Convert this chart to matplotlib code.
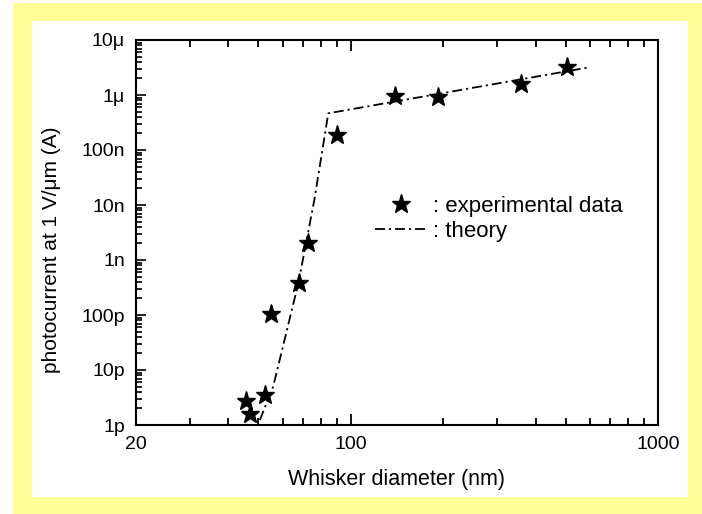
import matplotlib
matplotlib.use("Agg")
import matplotlib.pyplot as plt
from matplotlib.patches import Rectangle
from matplotlib.ticker import LogLocator, FixedLocator, FixedFormatter, NullFormatter

plt.rcParams['font.family'] = ['Liberation Sans', 'DejaVu Sans']

# experimental data
exp_diam = [45.6, 47.0, 52.6, 54.9, 67.8, 72.4, 90.0, 139.6, 191.9, 359.0, 506.0]
exp_curr = [2.73e-12, 1.56e-12, 3.51e-12, 1.03e-10, 3.77e-10, 2.01e-9, 1.87e-7,
            9.6e-7, 9.1e-7, 1.58e-6, 3.27e-6]

# theory curve
th_diam = [50.6, 55.9, 67.5, 76.1, 84.5, 588.0]
th_curr = [1.23e-12, 4.97e-12, 3.77e-10, 1.23e-8, 4.65e-7, 3.14e-6]

ytick_vals = [1e-12, 1e-11, 1e-10, 1e-9, 1e-8, 1e-7, 1e-6, 1e-5]
ytick_labels = ['1p', '10p', '100p', '1n', '10n', '100n', '1\u03bc', '10\u03bc']
xtick_vals = [20, 100, 1000]
xtick_labels = ['20', '100', '1000']

fig = plt.figure(figsize=(7.02, 5.14), dpi=100)
fig.patch.set_facecolor('white')
fig.patches.append(Rectangle((13/702, 0), 1 - 13/702, (514-3)/514, transform=fig.transFigure,
                             facecolor='#FFFF99', edgecolor='none', zorder=-2))
fig.patches.append(Rectangle((32/702, (514-497)/514), 656/702, 476/514, transform=fig.transFigure,
                             facecolor='white', edgecolor='none', zorder=-1))

ax = fig.add_axes([136/702, (514-425)/514, 522/702, 385/514])
ax.set_zorder(1)
ax.set_xscale('log')
ax.set_yscale('log')
ax.set_xlim(20, 1000)
ax.set_ylim(1e-12, 1e-5)

dash = (5.5, 2.2, 1.2, 2.2)
ax.plot(th_diam, th_curr, color='black', lw=1.3, linestyle=(0, dash), label=': theory')
ax.plot(exp_diam, exp_curr, linestyle='none', marker='*', color='black', markersize=14,
        label=': experimental data')

ax.xaxis.set_major_locator(FixedLocator(xtick_vals))
ax.xaxis.set_major_formatter(FixedFormatter(xtick_labels))
ax.xaxis.set_minor_locator(LogLocator(base=10, subs=range(2, 10)))
ax.xaxis.set_minor_formatter(NullFormatter())
ax.yaxis.set_major_locator(FixedLocator(ytick_vals))
ax.yaxis.set_major_formatter(FixedFormatter(ytick_labels))
ax.yaxis.set_minor_locator(LogLocator(base=10, subs=range(2, 10)))
ax.yaxis.set_minor_formatter(NullFormatter())

ax.tick_params(axis='x', which='both', direction='in', top=True, bottom=True, labelsize=14,
               width=1.3, pad=8)
ax.tick_params(axis='x', which='major', length=8)
ax.tick_params(axis='x', which='minor', length=5)
ax.tick_params(axis='y', which='both', direction='in', left=True, right=False, labelsize=14,
               width=1.2, pad=8)
ax.tick_params(axis='y', which='major', length=7)
ax.tick_params(axis='y', which='minor', length=4)
for s in ax.spines.values():
    s.set_linewidth(1.5)

ax.set_xlabel('Whisker diameter (nm)', fontsize=15.5)
ax.set_ylabel('photocurrent at 1 V/\u03bcm (A)', fontsize=15)
ax.xaxis.set_label_coords(0.5, -0.114)
ax.yaxis.set_label_coords(-0.144, 0.455)

handles, labels = ax.get_legend_handles_labels()
ax.legend(handles[::-1], labels[::-1], loc='upper left', bbox_to_anchor=(0.458, 0.596),
          frameon=False, fontsize=16, handlelength=2.3, handletextpad=0.3,
          labelspacing=0.2, borderpad=0, borderaxespad=0, numpoints=1)

fig.savefig('out.png', dpi=100, facecolor='white')
